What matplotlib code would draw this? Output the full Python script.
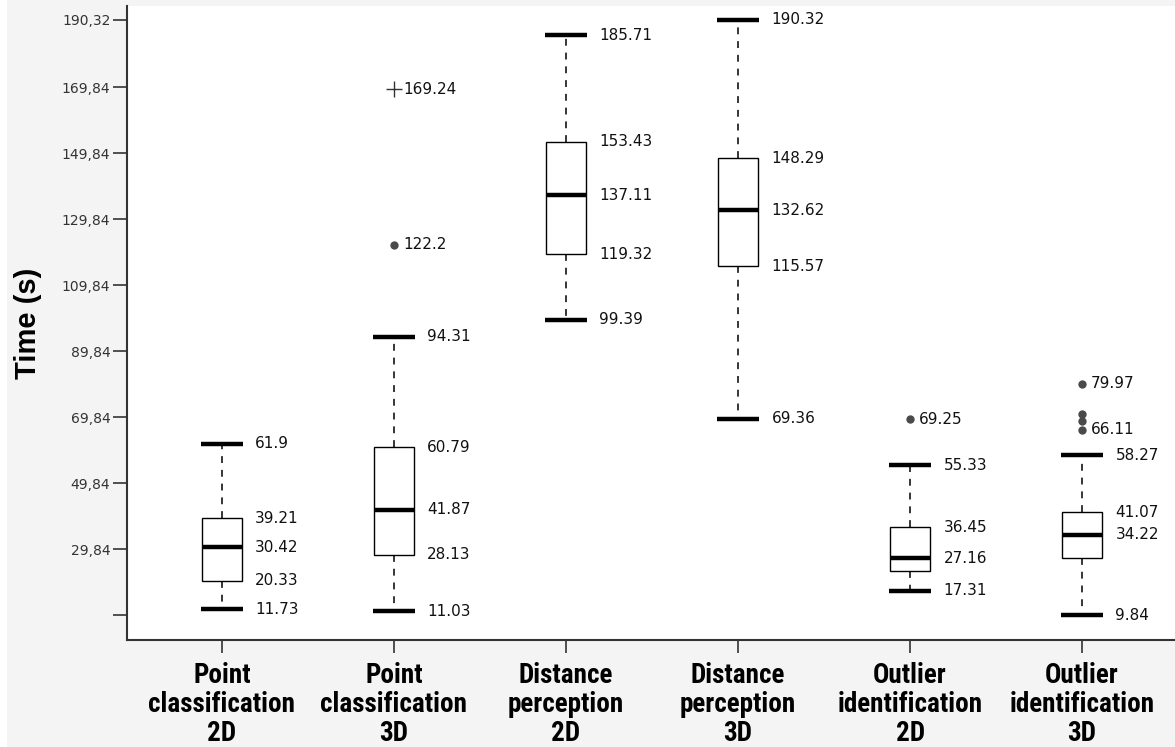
import matplotlib
matplotlib.use("Agg")
import matplotlib.pyplot as plt
from matplotlib.patches import Rectangle

# Task conditions
categories = ["Point\nclassification\n2D", "Point\nclassification\n3D",
              "Distance\nperception\n2D", "Distance\nperception\n3D",
              "Outlier\nidentification\n2D", "Outlier\nidentification\n3D"]

# Box plot statistics (seconds)
whis_lo = [11.73, 11.03, 99.39, 69.36, 17.31, 9.84]
q1 = [20.33, 28.13, 119.32, 115.57, 23.35, 27.10]
median = [30.42, 41.87, 137.11, 132.62, 27.16, 34.22]
q3 = [39.21, 60.79, 153.43, 148.29, 36.45, 41.07]
whis_hi = [61.9, 94.31, 185.71, 190.32, 55.33, 58.27]

# Outliers (circles) and extreme values (plus signs)
outliers = [[], [122.2], [], [], [69.25], [79.97, 70.9, 68.6, 66.11]]
extremes = [[], [169.24], [], [], [], []]

# Which statistics carry a value label
labelled = [
    [whis_lo[0], q1[0], median[0], q3[0], whis_hi[0]],
    [whis_lo[1], q1[1], median[1], q3[1], whis_hi[1]],
    [whis_lo[2], q1[2], median[2], q3[2], whis_hi[2]],
    [whis_lo[3], q1[3], median[3], q3[3], whis_hi[3]],
    [whis_lo[4], median[4], q3[4], whis_hi[4]],
    [whis_lo[5], median[5], q3[5], whis_hi[5]],
]
labelled_outliers = [[], [122.2], [], [], [69.25], [79.97, 66.11]]

ytick_vals = [9.84, 29.84, 49.84, 69.84, 89.84, 109.84, 129.84, 149.84, 169.84, 190.32]
ytick_text = ["", "29,84", "49,84", "69,84", "89,84", "109,84", "129,84",
              "149,84", "169,84", "190,32"]

fig = plt.figure(figsize=(11.75, 7.47), dpi=100, facecolor="#f4f4f4")
fig.patches.append(Rectangle((0, 0), 7 / 1175, 1, transform=fig.transFigure,
                             facecolor="white", edgecolor="none", zorder=0))
ax = fig.add_axes([127 / 1175, 107 / 747, 1 - 127 / 1175, 634 / 747])
ax.set_facecolor("white")

positions = list(range(len(categories)))
stats = []
for i in positions:
    stats.append(dict(med=median[i], q1=q1[i], q3=q3[i],
                      whislo=whis_lo[i], whishi=whis_hi[i], fliers=[]))

ax.bxp(stats, positions=positions, widths=0.233, capwidths=0.245,
       showfliers=False, patch_artist=True,
       boxprops=dict(facecolor="white", edgecolor="black", linewidth=1.0),
       medianprops=dict(color="black", linewidth=3.2, solid_capstyle="butt"),
       whiskerprops=dict(color="black", linewidth=1.1, linestyle=(0, (4.5, 4.5))),
       capprops=dict(color="black", linewidth=3.2, solid_capstyle="butt"))

for i in positions:
    if outliers[i]:
        ax.plot([i] * len(outliers[i]), outliers[i], "o", color="#4a4a4a",
                markersize=6, markeredgewidth=0, zorder=3)
    if extremes[i]:
        ax.plot([i] * len(extremes[i]), extremes[i], "+", color="#333333",
                markersize=11, markeredgewidth=1.0, zorder=3)

label_font = dict(family="DejaVu Sans", fontsize=11, color="#111111")
for i in positions:
    for v in labelled[i]:
        ax.annotate(f"{v:g}", (i, v), xytext=(24, 0), textcoords="offset points",
                    ha="left", va="center", **label_font)
    for v in labelled_outliers[i] + extremes[i]:
        ax.annotate(f"{v:g}", (i, v), xytext=(6.5, 0), textcoords="offset points",
                    ha="left", va="center", **label_font)

ax.set_xlim(-0.552, 5.54)
ax.set_ylim(2.35, 194.5)

ax.set_yticks(ytick_vals)
ax.set_yticklabels(ytick_text, family="DejaVu Sans", fontsize=10, color="#333333")
ax.set_xticks(positions)
ax.set_xticklabels(categories,
                   family=["Roboto Condensed", "DejaVu Sans Condensed", "DejaVu Sans"],
                   fontstretch="condensed", fontweight="bold", fontsize=19.5,
                   linespacing=1.1)
ax.tick_params(axis="y", direction="out", length=10, width=1.2, color="#333333", pad=2)
ax.tick_params(axis="x", direction="out", length=9, width=1.2, color="#333333", pad=7)

for side in ("top", "right"):
    ax.spines[side].set_visible(False)
for side in ("left", "bottom"):
    ax.spines[side].set_linewidth(1.5)
    ax.spines[side].set_color("#333333")

ax.set_ylabel("Time (s)", family="Liberation Sans", fontweight="bold",
              fontsize=21, labelpad=14)

fig.savefig("out.png", dpi=100, facecolor=fig.get_facecolor())
